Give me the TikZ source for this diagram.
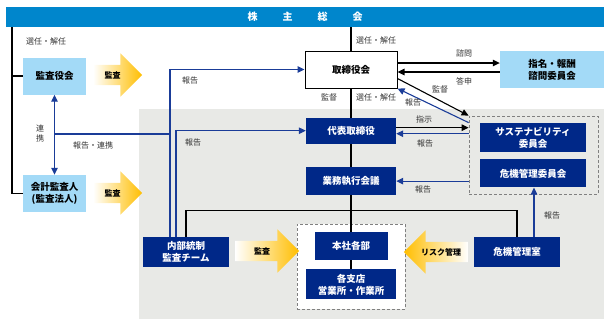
\documentclass[tikz,border=0pt]{standalone}
\usepackage{fontspec}
\setmainfont{Noto Sans CJK JP}
\usetikzlibrary{positioning,arrows.meta,calc,shapes.arrows}
\definecolor{bannerblue}{HTML}{0086CC}
\definecolor{paleblue}{HTML}{A3DAF7}
\definecolor{navybox}{HTML}{002888}
\definecolor{lineblue}{HTML}{1A3C98}
\definecolor{graybg}{HTML}{E8E9E6}
\definecolor{dashgray}{HTML}{808080}
\definecolor{labelgray}{HTML}{333333}
\definecolor{arrowyellow}{HTML}{FFBE00}

\begin{document}
\begin{tikzpicture}[x=1pt, y=-1pt, font=\fontsize{8}{10}\selectfont, >={Triangle[length=7pt,width=6.5pt]}]
\tikzset{dbox/.style={fill=navybox, text=white, font=\fontsize{9.5}{12}\selectfont\bfseries, align=center, inner sep=0pt, minimum width=90pt, minimum height=28pt},lbox/.style={fill=paleblue, font=\fontsize{9.5}{12}\selectfont\bfseries, align=center, inner sep=0pt, minimum width=63pt, minimum height=37pt},lbl/.style={text=labelgray, inner sep=1pt, align=center},garr/.style={single arrow, single arrow head extend=11.5pt, text height=7pt, text depth=1pt, inner xsep=2pt, inner ysep=6pt, minimum height=49pt, left color=white, middle color=arrowyellow!65, right color=arrowyellow, font=\fontsize{8}{10}\selectfont\bfseries},dashbox/.style={draw=dashgray, dash pattern=on 3pt off 2pt, line width=0.8pt, inner sep=0pt},bk/.style={draw=black, line width=1.1pt},bl/.style={draw=lineblue, line width=1.1pt}}
\useasboundingbox (0,0) rectangle (612,325);
\fill[graybg] (139,109) rectangle (604,319);
\node[fill=bannerblue, text=white, font=\fontsize{10}{12}\selectfont\bfseries, minimum width=598pt, minimum height=20pt, inner sep=0pt] (soukai) at (305,17) {株\hspace{25pt}主\hspace{25pt}総\hspace{25pt}会};
\node[lbox] (kansa) at (54.5,76) {監査役会};
\node[lbox] (kaikei) at (54.5,193.5) {会計監査人\\(監査法人)};
\node[garr] (kansaarr1) at (112.5,75) {監査};
\node[garr] (kansaarr2) at (112.5,193) {監査};
\node[draw=black, line width=1pt, fill=white, font=\fontsize{9.5}{12}\selectfont\bfseries, minimum width=92pt, minimum height=37pt, inner sep=0pt] (tor) at (351,69.5) {取締役会};
\node[lbox, minimum width=104pt] (shimon) at (552,69.5) {指名・報酬\\諮問委員会};
\node[dbox, minimum height=26pt, below=29pt of tor] (daihyo) {代表取締役};
\node[dbox, below=23pt of daihyo] (gyomu) {業務執行会議};
\node[dashbox, minimum width=129pt, minimum height=78pt] (com) at (533.5,155) {};
\node[dbox, minimum width=106pt, minimum height=29pt] (sus) at (533,137.5) {サステナビリティ\\委員会};
\node[dbox, minimum width=106pt, below=7pt of sus] (kiki) {危機管理委員会};
\node[dashbox, fill=white, minimum width=108pt, minimum height=85pt] (site) at (351,266.5) {};
\node[dbox, minimum width=73pt] (honsha) at (351,246) {本社各部};
\node[dbox, minimum height=30pt, below=9pt of honsha] (shiten) {各支店\\営業所・作業所};
\node[dbox, minimum width=86pt, minimum height=30pt] (naibu) at (186,252) {内部統制\\監査チーム};
\node[dbox, minimum width=86pt, minimum height=30pt] (kikishitsu) at (517,252) {危機管理室};
\node[garr, minimum height=64pt] (kansaarr3) at (262,251) {監査};
\node[garr, minimum height=64pt, shape border rotate=180, left color=arrowyellow, middle color=arrowyellow!65, right color=white] (riskarr) at (441,252) {リスク管理};
\coordinate (lt) at (12,27); \coordinate (jt) at (54,134);
\coordinate (b1) at ($(naibu.north)+(-16,0)$); \coordinate (b2) at ($(naibu.north)+(-10,0)$);
\coordinate (d1) at ($(daihyo.east)+(0,-3)$); \coordinate (d2) at ($(daihyo.east)+(0,3)$);
\coordinate (k1) at ($(kikishitsu.north)+(17,0)$);
\draw[bk] (lt) |- (kansa.west) (lt) |- (kaikei.west);
\draw[bk] (soukai.south -| tor.north) -- (tor.north); \draw[bk] (tor) -- (daihyo); \draw[bk] (daihyo) -- (gyomu); \draw[bk] (gyomu) -- (honsha); \draw[bk] (honsha) -- (shiten);
\draw[bk] (naibu.north) -- ++(0,-26) -| (kikishitsu.north);
\draw[bl,<->] (kansa) -- (kaikei); \draw[bl] (jt) -- (jt -| b1);
\draw[bl,->] (b1) |- (tor.west); \draw[bl,->] (b2) |- (daihyo.west);
\draw[bk,->] ($(tor.east)+(0,-6.5)$) -- ($(shimon.west)+(0,-6.5)$); \draw[bk,->] ($(shimon.west)+(0,2.5)$) -- ($(tor.east)+(0,2.5)$);
\draw[bk,->] ($(tor.east)+(0,9)$) -- (com.north west); \draw[bl,->] ($(com.north west)+(0,7)$) -- (tor.south east);
\draw[bk,->] (d1) -- (d1 -| com.west); \draw[bl,->] (d2 -| com.west) -- (d2);
\draw[bl,->] (gyomu.east -| com.west) -- (gyomu.east);
\draw[bl,->] (k1) -- (k1 |- kiki.south);
\node[lbl] (l1) at (46,41) {選任・解任};
\node[lbl] (l2) at (376,40) {選任・解任};
\node[lbl] (l3) at (329,97) {監督};
\node[lbl] (l4) at (376,97) {選任・解任};
\node[lbl] (l5) at (464,53) {諮問};
\node[lbl] (l6) at (464,81) {答申};
\node[lbl] (l7) at (440,89) {監督};
\node[lbl] (l8) at (413,102) {報告};
\node[lbl] (l9) at (190,80) {報告};
\node[lbl] (l10) at (193,142) {報告};
\node[lbl] (l11) at (424,119) {指示};
\node[lbl] (l12) at (425,143) {報告};
\node[lbl] (l13) at (423,189) {報告};
\node[lbl] (l14) at (552,215) {報告};
\node[lbl] (l15) at (40,133) {連\\携};
\node[lbl] (l16) at (93,145) {報告・連携};
\end{tikzpicture}
\end{document}
